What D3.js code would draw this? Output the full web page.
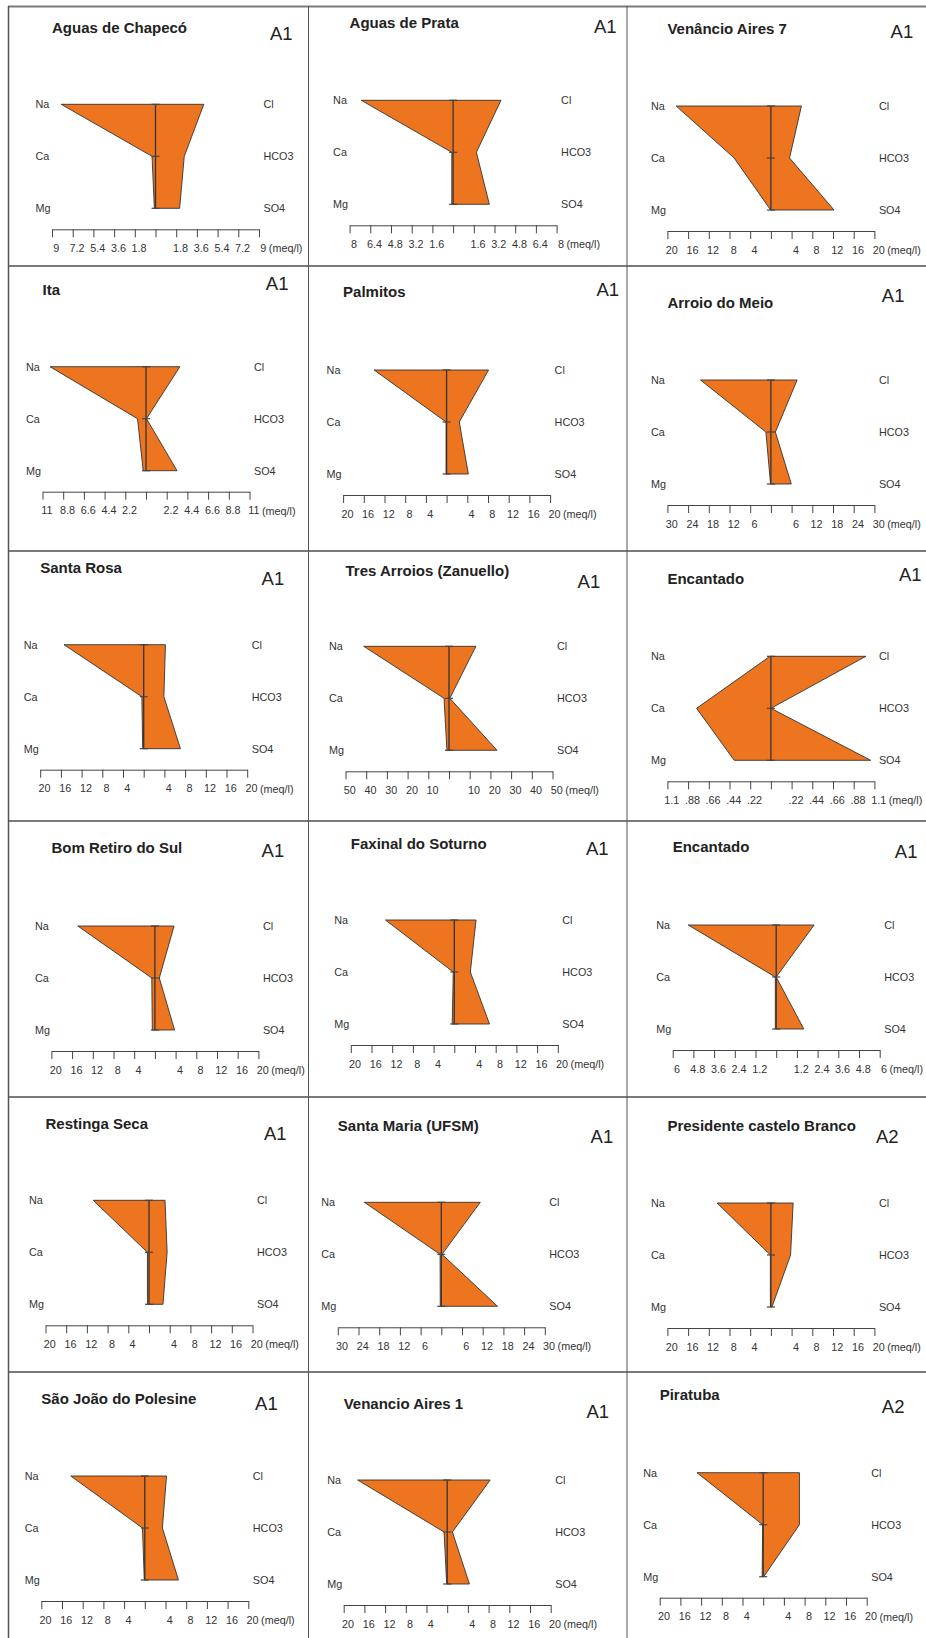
<!DOCTYPE html>
<html>
<head>
<meta charset="utf-8">
<script src="https://cdn.jsdelivr.net/npm/d3@7"></script>
<style>
  html, body { margin: 0; padding: 0; background: #fff; }
  svg { display: block; }
  text { font-family: "Liberation Sans", Arial, Helvetica, sans-serif; }
</style>
</head>
<body>
<svg id="chart" width="926" height="1638"></svg>
<script>
// Stiff diagrams of major ions (meq/l) per well
const stations = ["Aguas de Chapecó", "Aguas de Prata", "Venâncio Aires 7",
  "Ita", "Palmitos", "Arroio do Meio",
  "Santa Rosa", "Tres Arroios (Zanuello)", "Encantado",
  "Bom Retiro do Sul", "Faxinal do Soturno", "Encantado",
  "Restinga Seca", "Santa Maria (UFSM)", "Presidente castelo Branco",
  "São João do Polesine", "Venancio Aires 1", "Piratuba"];
const groups = ["A1", "A1", "A1", "A1", "A1", "A1", "A1", "A1", "A1",
  "A1", "A1", "A1", "A1", "A1", "A2", "A1", "A1", "A2"];
const scaleMax = [9, 8, 20, 11, 20, 30, 20, 50, 1.1, 20, 20, 6, 20, 30, 20, 20, 20, 20];

// Outer tick labels (from the end of the axis toward the centre)
const ticks9 = ["9", "7.2", "5.4", "3.6", "1.8"];
const ticks8 = ["8", "6.4", "4.8", "3.2", "1.6"];
const ticks20 = ["20", "16", "12", "8", "4"];
const ticks11 = ["11", "8.8", "6.6", "4.4", "2.2"];
const ticks30 = ["30", "24", "18", "12", "6"];
const ticks50 = ["50", "40", "30", "20", "10"];
const ticks1_1 = ["1.1", ".88", ".66", ".44", ".22"];
const ticks6 = ["6", "4.8", "3.6", "2.4", "1.2"];
const tickLabels = [ticks9, ticks8, ticks20, ticks11, ticks20, ticks30,
  ticks20, ticks50, ticks1_1, ticks20, ticks20, ticks6,
  ticks20, ticks30, ticks20, ticks20, ticks20, ticks20];

const cations = ["Na", "Ca", "Mg"];
const anions = ["Cl", "HCO3", "SO4"];

// Cations (left side)
const na = [8.2, 7.1, 18.3, 10.2, 14.0, 20.4, 15.4, 41.2, 0.01, 14.9, 13.3, 5.1, 10.8, 22.3, 10.4, 14.3, 17.3, 12.8];
const ca = [0.3, 0.1, 7.1, 0.9, 0.1, 1.45, 0.35, 2.4, 0.79, 0.6, 0.2, 0.05, 0.3, 0.35, 0.1, 0.45, 0.6, 0.1];
const mg = [0.1, 0.1, 0.05, 0.3, 0.1, 0.1, 0.2, 1.0, 0.39, 0.5, 0.4, 0.05, 0.3, 0.3, 0.1, 0.1, 0.1, 0.2];
// Anions (right side)
const cl = [4.2, 3.7, 5.9, 3.6, 8.1, 7.6, 4.2, 13.0, 1.01, 3.7, 4.2, 2.2, 3.1, 11.3, 4.3, 4.2, 8.3, 7.0];
const hco3 = [2.5, 1.8, 3.6, 0.05, 2.45, 1.3, 3.9, 0.4, 0.0, 0.85, 3.1, 0.0, 3.5, 0.2, 3.8, 3.4, 1.0, 7.0];
const so4 = [2.1, 2.8, 12.2, 3.3, 4.2, 5.9, 7.1, 23.2, 1.06, 3.8, 6.8, 1.6, 2.7, 16.3, 0.2, 6.5, 4.3, 0.1];

// ---- layout (page geometry) ----
const W = 926, H = 1638;
const AXIS_W = 207;
const ROW_OFFSETS = [-125, -73, -21];   // ion rows above the axis line
const axisLeft = [52.0, 349.6, 667.4, 42.5, 343.1, 667.4, 40.2, 345.5, 667.4,
  51.4, 350.8, 672.7, 45.5, 337.8, 667.4, 41.3, 343.7, 659.7];
const axisY = [229.3, 225.3, 231, 491.7, 495, 505, 769.7, 771.3, 781.3,
  1051, 1045, 1050, 1325.3, 1327.3, 1328, 1601, 1605, 1597.7];
const titleY = [27.7, 22.7, 28.3, 290, 291.7, 302.3, 568, 570.3, 578.7,
  847.3, 843.3, 846.7, 1124, 1125.7, 1125.7, 1399, 1403.3, 1395];
const groupX = [270, 594, 890.6, 265.8, 596.5, 881.8, 261.6, 577.6, 898.9,
  261.6, 585.9, 894.8, 264, 590.6, 875.9, 255.1, 586.5, 881.8];
const groupY = [33.3, 26.7, 31.7, 283.3, 289, 295, 578, 581.3, 574.7,
  850, 848.3, 851.7, 1133, 1136.3, 1136.3, 1403.3, 1411.7, 1406.7];
const rowLines = [6.5, 266, 551, 821, 1097, 1372];
const colLines = [308.5, 627];

const svg = d3.select("#chart");
svg.append("rect").attr("width", W).attr("height", H).attr("fill", "#fff");

// frame
const frame = svg.append("g");
frame.selectAll("line.row").data(rowLines).join("line")
  .attr("x1", 8).attr("x2", W).attr("y1", d => d).attr("y2", d => d)
  .attr("stroke", "#7a7a7a").attr("stroke-width", 2);
frame.append("line").attr("x1", 8.5).attr("x2", 8.5).attr("y1", 6).attr("y2", H)
  .attr("stroke", "#555").attr("stroke-width", 1.5);
frame.selectAll("line.col").data(colLines).join("line")
  .attr("x1", d => d).attr("x2", d => d).attr("y1", 6).attr("y2", H)
  .attr("stroke", "#555").attr("stroke-width", 1);

const FILL = "#ED7520";
const INK = "#333";
const LABEL_SIZE = 10.8;

stations.forEach((name, i) => {
  const max = scaleMax[i];
  const x = d3.scaleLinear().domain([-max, max]).range([axisLeft[i], axisLeft[i] + AXIS_W]);
  const rowsY = ROW_OFFSETS.map(o => axisY[i] + o);
  const g = svg.append("g");

  // title and group
  g.append("text").attr("x", axisLeft[i]).attr("y", titleY[i] + 5.4)
    .attr("font-size", 15).attr("font-weight", "bold").attr("fill", "#222")
    .text(name);
  g.append("text").attr("x", groupX[i]).attr("y", groupY[i] + 6.6)
    .attr("font-size", 18.5).attr("fill", "#222").text(groups[i]);

  // polygon: cations to the left (negative), anions to the right
  const left = [na[i], ca[i], mg[i]];
  const right = [cl[i], hco3[i], so4[i]];
  const pts = [];
  right.forEach((v, k) => pts.push([x(v), rowsY[k]]));
  for (let k = 2; k >= 0; k--) pts.push([x(-left[k]), rowsY[k]]);
  g.append("path")
    .attr("d", d3.line()(pts) + "Z")
    .attr("fill", FILL).attr("stroke", INK).attr("stroke-width", 0.9)
    .attr("stroke-linejoin", "miter");

  // centre line with row markers
  g.append("line").attr("x1", x(0)).attr("x2", x(0))
    .attr("y1", rowsY[0]).attr("y2", rowsY[2])
    .attr("stroke", INK).attr("stroke-width", 1.3);
  g.selectAll("line.mark").data(rowsY).join("line")
    .attr("x1", x(0) - 4).attr("x2", x(0) + 4)
    .attr("y1", d => d).attr("y2", d => d)
    .attr("stroke", "#444").attr("stroke-width", 1.2);

  // ion labels
  g.selectAll("text.cat").data(cations).join("text")
    .attr("x", axisLeft[i] - 16.5).attr("y", (d, k) => rowsY[k] + 3.9)
    .attr("font-size", LABEL_SIZE).attr("fill", INK).text(d => d);
  g.selectAll("text.an").data(anions).join("text")
    .attr("x", axisLeft[i] + AXIS_W + 4.5).attr("y", (d, k) => rowsY[k] + 3.9)
    .attr("font-size", LABEL_SIZE).attr("fill", INK).text(d => d);

  // symmetric scale bar
  const outer = tickLabels[i];
  const labels = outer.concat([""], outer.slice().reverse());
  const values = d3.range(-5, 6).map(k => k * max / 5);
  const axis = d3.axisBottom(x).tickValues(values)
    .tickSize(8).tickSizeOuter(0).tickPadding(7)
    .tickFormat((d, k) => labels[k]);
  const ax = g.append("g").attr("transform", `translate(0,${axisY[i]})`).call(axis);
  ax.select(".domain").attr("stroke", "#444").attr("stroke-width", 1);
  ax.selectAll(".tick line").attr("stroke", "#444").attr("stroke-width", 1);
  ax.selectAll(".tick text").attr("fill", INK).attr("dx", 3.8)
    .attr("font-size", LABEL_SIZE)
    .attr("font-family", '"Liberation Sans", Arial, sans-serif');

  const lastText = ax.selectAll(".tick text").nodes().pop();
  const halfW = lastText.getComputedTextLength() / 2;
  g.append("text")
    .attr("x", x(max) + 3.8 + halfW + 3)
    .attr("y", axisY[i] + 19 + 3.9)
    .attr("font-size", LABEL_SIZE).attr("fill", INK)
    .text("(meq/l)");
});
</script>
</body>
</html>
